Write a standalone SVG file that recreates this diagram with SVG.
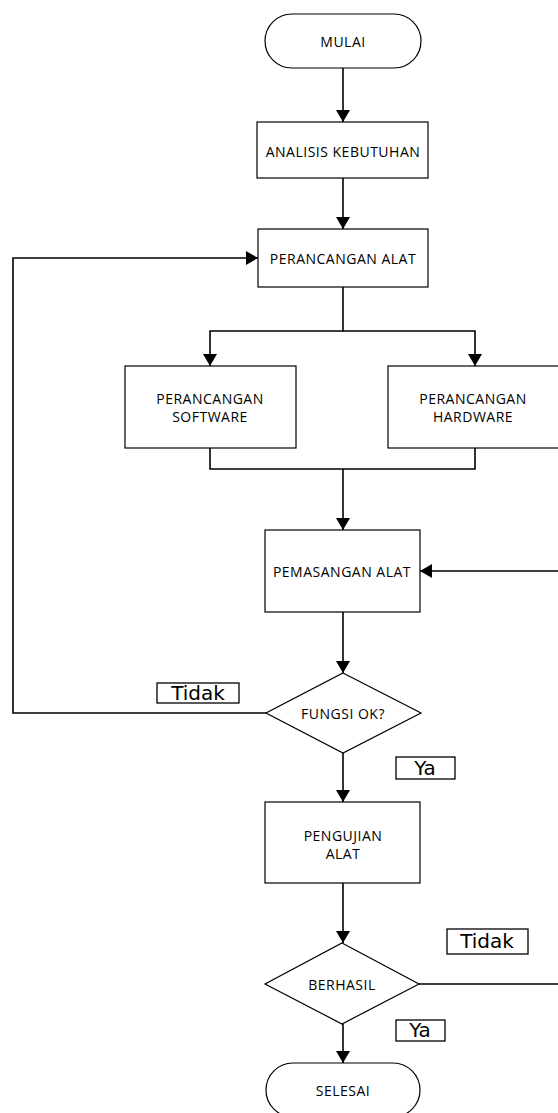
<svg xmlns="http://www.w3.org/2000/svg" width="558" height="1113" viewBox="0 0 558 1113">
<defs>
<marker id="ah" markerUnits="userSpaceOnUse" markerWidth="13" markerHeight="14" refX="12" refY="7" orient="auto">
<path d="M0,0 L12,7 L0,14 z" fill="#000"/>
</marker>
<style>
.sh{fill:#fff;stroke:#000;stroke-width:1.2}
.ln{fill:none;stroke:#000;stroke-width:1.6}
.t{font-family:"Open Sans","DejaVu Sans",sans-serif;font-size:14px;letter-spacing:0.5px;fill:#000;text-anchor:middle;dominant-baseline:central}
.lb{fill:#fff;stroke:#000;stroke-width:1.3}
.lt{font-family:"DejaVu Sans",sans-serif;font-size:20px;fill:#000;text-anchor:middle;dominant-baseline:central}
</style>
</defs>
<rect width="558" height="1113" fill="#fff"/>
<g id="connectors">
<line class="ln" x1="343" y1="68" x2="343" y2="122" marker-end="url(#ah)"/>
<line class="ln" x1="343" y1="178" x2="343" y2="229" marker-end="url(#ah)"/>
<polyline class="ln" points="343,287 343,331 210,331 210,366" marker-end="url(#ah)"/>
<polyline class="ln" points="343,331 475,331 475,366" marker-end="url(#ah)"/>
<polyline class="ln" points="210,448 210,469 475,469 475,448"/>
<line class="ln" x1="343" y1="469" x2="343" y2="530" marker-end="url(#ah)"/>
<line class="ln" x1="558" y1="571" x2="420" y2="571" marker-end="url(#ah)"/>
<line class="ln" x1="343" y1="612" x2="343" y2="673" marker-end="url(#ah)"/>
<polyline class="ln" points="266,713 13,713 13,258 258,258" marker-end="url(#ah)"/>
<line class="ln" x1="343" y1="753" x2="343" y2="802" marker-end="url(#ah)"/>
<line class="ln" x1="343" y1="883" x2="343" y2="943" marker-end="url(#ah)"/>
<line class="ln" x1="419" y1="984" x2="558" y2="984"/>
<line class="ln" x1="343" y1="1024" x2="343" y2="1063" marker-end="url(#ah)"/>
</g>
<g id="mulai">
<rect class="sh" x="265" y="14" width="156" height="54" rx="27" ry="27"/>
<text class="t" x="343" y="41">MULAI</text>
</g>
<g id="analisis">
<rect class="sh" x="257" y="122" width="171" height="56"/>
<text class="t" x="343" y="151">ANALISIS KEBUTUHAN</text>
</g>
<g id="perancangan-alat">
<rect class="sh" x="258" y="229" width="170" height="58"/>
<text class="t" x="343" y="258">PERANCANGAN ALAT</text>
</g>
<g id="software">
<rect class="sh" x="125" y="366" width="171" height="82"/>
<text class="t" x="210" y="398">PERANCANGAN</text>
<text class="t" x="210" y="416">SOFTWARE</text>
</g>
<g id="hardware">
<rect class="sh" x="388" y="366" width="171" height="82"/>
<text class="t" x="473" y="398">PERANCANGAN</text>
<text class="t" x="473" y="416">HARDWARE</text>
</g>
<g id="pemasangan">
<rect class="sh" x="265" y="530" width="155" height="82"/>
<text class="t" x="342" y="571">PEMASANGAN ALAT</text>
</g>
<g id="fungsi">
<polygon class="sh" points="343,673 421,713 343,753 266,713"/>
<text class="t" x="343" y="713">FUNGSI OK?</text>
</g>
<g id="label-tidak-1">
<rect class="lb" x="157" y="683" width="82" height="20"/>
<text class="lt" x="198" y="693">Tidak</text>
</g>
<g id="label-ya-1">
<rect class="lb" x="396" y="757" width="59" height="22"/>
<text class="lt" x="425" y="768">Ya</text>
</g>
<g id="pengujian">
<rect class="sh" x="265" y="802" width="155" height="81"/>
<text class="t" x="343" y="835">PENGUJIAN</text>
<text class="t" x="343" y="853">ALAT</text>
</g>
<g id="label-tidak-2">
<rect class="lb" x="447" y="929" width="81" height="25"/>
<text class="lt" x="487" y="941">Tidak</text>
</g>
<g id="berhasil">
<polygon class="sh" points="342,943 419,984 342,1024 265,984"/>
<text class="t" x="342" y="984">BERHASIL</text>
</g>
<g id="label-ya-2">
<rect class="lb" x="396" y="1020" width="49" height="21"/>
<text class="lt" x="420" y="1030">Ya</text>
</g>
<g id="selesai">
<rect class="sh" x="266" y="1063" width="154" height="54" rx="27" ry="27"/>
<text class="t" x="343" y="1090">SELESAI</text>
</g>
</svg>
